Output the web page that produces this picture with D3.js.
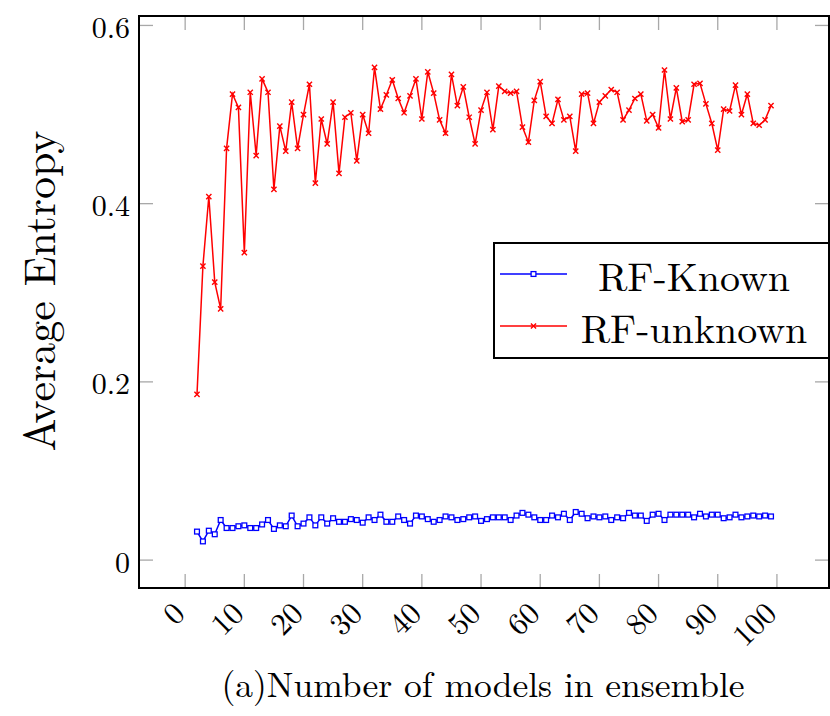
<!DOCTYPE html>
<html>
<head>
<meta charset="utf-8">
<script src="https://cdn.jsdelivr.net/npm/d3@7/dist/d3.min.js"></script>
<style>
  html, body { margin: 0; padding: 0; background: #fff; }
  svg { display: block; }
</style>
</head>
<body>
<svg id="chart" width="830" height="716"></svg>
<script>
// ---- data ----
const models = [2,3,4,5,6,7,8,9,10,11,12,13,14,15,16,17,18,19,20,21,22,23,24,25,26,27,28,29,30,31,32,33,34,35,36,37,38,39,40,41,42,43,44,45,46,47,48,49,50,51,52,53,54,55,56,57,58,59,60,61,62,63,64,65,66,67,68,69,70,71,72,73,74,75,76,77,78,79,80,81,82,83,84,85,86,87,88,89,90,91,92,93,94,95,96,97,98,99];

const rfKnown = [0.032,0.021,0.033,0.029,0.045,0.036,0.036,0.038,0.039,0.036,0.036,0.040,0.045,0.035,0.039,0.038,0.050,0.038,0.041,0.048,0.039,0.048,0.041,0.047,0.043,0.043,0.046,0.045,0.042,0.048,0.045,0.051,0.043,0.043,0.049,0.045,0.041,0.050,0.049,0.046,0.043,0.045,0.049,0.048,0.045,0.046,0.048,0.049,0.044,0.046,0.048,0.048,0.048,0.045,0.050,0.053,0.051,0.048,0.045,0.045,0.050,0.048,0.052,0.045,0.054,0.052,0.047,0.049,0.048,0.049,0.045,0.048,0.047,0.053,0.050,0.050,0.044,0.051,0.052,0.045,0.051,0.051,0.051,0.051,0.048,0.052,0.049,0.051,0.051,0.047,0.048,0.051,0.048,0.049,0.050,0.049,0.050,0.049];

const rfUnknown = [0.186,0.330,0.408,0.312,0.282,0.462,0.523,0.508,0.345,0.525,0.454,0.540,0.525,0.416,0.487,0.459,0.514,0.462,0.500,0.534,0.423,0.495,0.467,0.514,0.434,0.497,0.502,0.448,0.500,0.479,0.553,0.506,0.522,0.539,0.518,0.502,0.521,0.540,0.495,0.548,0.524,0.494,0.479,0.545,0.510,0.531,0.497,0.467,0.505,0.525,0.483,0.532,0.526,0.524,0.526,0.486,0.469,0.516,0.537,0.498,0.490,0.517,0.494,0.498,0.459,0.523,0.524,0.490,0.514,0.521,0.528,0.525,0.494,0.505,0.518,0.523,0.493,0.500,0.485,0.550,0.495,0.530,0.492,0.494,0.534,0.535,0.512,0.490,0.460,0.506,0.504,0.533,0.500,0.523,0.490,0.488,0.494,0.510];

const xTicks = [0,10,20,30,40,50,60,70,80,90,100];
const yTicks = [0,0.2,0.4,0.6];
const seriesNames = ["RF-Known", "RF-unknown"];
const xTitle = "(a)Number of models in ensemble";
const yTitle = "Average Entropy";

// ---- layout ----
const FONT = "'Latin Modern Roman', 'CMU Serif', 'Liberation Serif', serif";
const L = 139, R = 829, T = 16, B = 588;
const svg = d3.select("#chart");

const x = d3.scaleLinear().domain([-7.8, 108.8]).range([L, R]);
const y = d3.scaleLinear().domain([-0.0313, 0.6106]).range([B, T]);

const tickLen = 14, tickColor = "#a8a8a8";

// ticks (inside, all four sides)
const tg = svg.append("g").attr("stroke", tickColor).attr("stroke-width", 1.3);
xTicks.forEach(t => {
  tg.append("line").attr("x1", x(t)).attr("x2", x(t)).attr("y1", B).attr("y2", B - tickLen);
  tg.append("line").attr("x1", x(t)).attr("x2", x(t)).attr("y1", T).attr("y2", T + tickLen);
});
yTicks.forEach(t => {
  tg.append("line").attr("x1", L).attr("x2", L + tickLen).attr("y1", y(t)).attr("y2", y(t));
  tg.append("line").attr("x1", R).attr("x2", R - tickLen).attr("y1", y(t)).attr("y2", y(t));
});

// tick labels
svg.append("g").selectAll("text").data(yTicks).join("text")
  .attr("x", L - 9).attr("y", d => y(d))
  .attr("text-anchor", "end").attr("dominant-baseline", "central")
  .attr("font-family", FONT).attr("font-size", 30)
  .text(d => d === 0 ? "0" : d.toFixed(1));

svg.append("g").selectAll("text").data(xTicks).join("text")
  .attr("transform", d => `translate(${x(d) - 8},${B + 18}) rotate(-45)`)
  .attr("text-anchor", "end").attr("dominant-baseline", "central")
  .attr("font-family", FONT).attr("font-size", 31)
  .text(d => d);

// series
const line = (vals) => d3.line().x((d, i) => x(models[i])).y(d => y(d))(vals);

svg.append("path").attr("d", line(rfKnown))
  .attr("fill", "none").attr("stroke", "#0000ff").attr("stroke-width", 1.5);
svg.append("path").attr("d", line(rfUnknown))
  .attr("fill", "none").attr("stroke", "#ff0000").attr("stroke-width", 1.5);

function squareMark(g, cx, cy) {
  g.append("rect").attr("x", cx - 2.4).attr("y", cy - 2.4).attr("width", 4.8).attr("height", 4.8)
    .attr("fill", "#fff").attr("stroke", "#0000ff").attr("stroke-width", 1.3);
}
function xMark(g, cx, cy) {
  const s = 2.6;
  g.append("path").attr("d", `M${cx - s},${cy - s}L${cx + s},${cy + s}M${cx - s},${cy + s}L${cx + s},${cy - s}`)
    .attr("stroke", "#ff0000").attr("stroke-width", 1.4).attr("fill", "none");
}
const mk = svg.append("g");
rfKnown.forEach((v, i) => squareMark(mk, x(models[i]), y(v)));
rfUnknown.forEach((v, i) => xMark(mk, x(models[i]), y(v)));

// frame
svg.append("rect").attr("x", L).attr("y", T).attr("width", R - L).attr("height", B - T)
  .attr("fill", "none").attr("stroke", "#000").attr("stroke-width", 2);

// legend
const lg = svg.append("g");
const LX0 = 494, LY0 = 243, LX1 = R, LY1 = 358;
lg.append("rect").attr("x", LX0).attr("y", LY0).attr("width", LX1 - LX0).attr("height", LY1 - LY0)
  .attr("fill", "#fff").attr("stroke", "#000").attr("stroke-width", 2);
const rows = [274, 326];
const colors = ["#0000ff", "#ff0000"];
rows.forEach((ry, i) => {
  lg.append("line").attr("x1", 500).attr("x2", 567).attr("y1", ry).attr("y2", ry)
    .attr("stroke", colors[i]).attr("stroke-width", 1.5);
  if (i === 0) squareMark(lg, 533.5, ry); else xMark(lg, 533.5, ry);
  lg.append("text").attr("x", 694).attr("y", ry).attr("dominant-baseline", "central")
    .attr("text-anchor", "middle").attr("font-family", FONT).attr("font-size", 40).text(seriesNames[i]);
});

// axis titles
svg.append("text").attr("x", (L + R) / 2 - 1).attr("y", 697).attr("text-anchor", "middle")
  .attr("font-family", FONT).attr("font-size", 35.5).text(xTitle);
svg.append("text").attr("transform", `translate(55,${(T + B) / 2 - 11}) rotate(-90)`)
  .attr("text-anchor", "middle").attr("font-family", FONT).attr("font-size", 44).text(yTitle);
</script>
</body>
</html>
